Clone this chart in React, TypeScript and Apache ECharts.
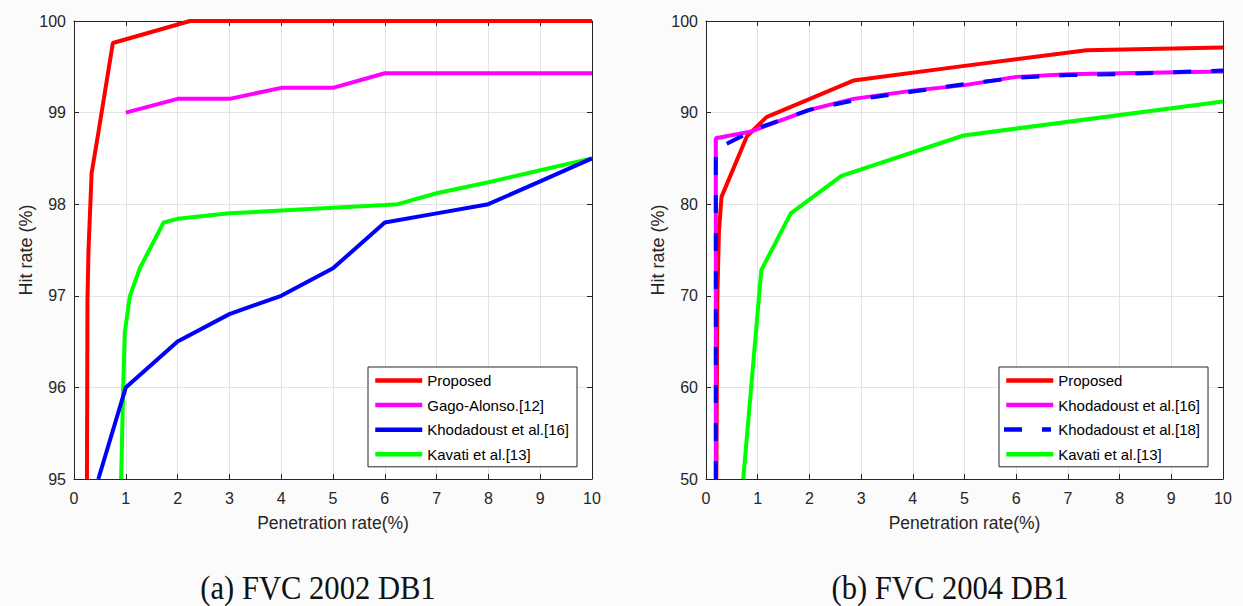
import React, { useEffect, useRef } from "react";
import * as echarts from "echarts";

// ---------- Data: (a) FVC 2002 DB1 ----------
const aProposedX = [0.25, 0.26, 0.28, 0.34, 0.47, 0.75, 2.24, 10];
const aProposedY = [95, 96.95, 97.5, 98.34, 98.78, 99.76, 100, 100];

const aGagoX = [1, 2, 3, 4, 5, 6, 7, 8, 9, 10];
const aGagoY = [99, 99.15, 99.15, 99.27, 99.27, 99.43, 99.43, 99.43, 99.43, 99.43];

const aKhod16X = [0.47, 1, 2, 3, 4, 5, 6, 7, 8, 9, 10];
const aKhod16Y = [95, 96, 96.5, 96.8, 97, 97.3, 97.8, 97.9, 98, 98.25, 98.5];

const aKavatiX = [0.91, 0.93, 0.95, 0.98, 1.08, 1.27, 1.73, 2, 3, 4, 5, 6, 6.25, 7, 8, 9, 10];
const aKavatiY = [95, 95.5, 96, 96.6, 97.0, 97.3, 97.8, 97.84, 97.9, 97.93, 97.96, 97.99, 98.0, 98.12, 98.24, 98.37, 98.5];

// ---------- Data: (b) FVC 2004 DB1 ----------
const bProposedX = [0.2, 0.22, 0.25, 0.3, 0.79, 1.17, 2.85, 5, 7.36, 10];
const bProposedY = [50, 70, 77, 80.8, 87.4, 89.5, 93.5, 95.1, 96.8, 97.1];

const bKhod16X = [0.19, 0.19, 0.85, 2, 2.85, 4, 5, 6, 7, 8, 10];
const bKhod16Y = [50, 87.2, 87.9, 90.3, 91.5, 92.4, 93.0, 93.9, 94.2, 94.3, 94.5];

const bKhod18X = [0.19, 0.19, 0.4, 1, 2, 3, 4, 5, 6, 7, 8, 9, 10];
const bKhod18Y = [50, 86, 86.6, 88.3, 90.3, 91.5, 92.3, 93.1, 93.8, 94.1, 94.2, 94.4, 94.6];

const bKavatiX = [0.72, 1.07, 1.64, 2.62, 4.98, 10];
const bKavatiY = [50, 72.8, 79, 83.1, 87.5, 91.2];

const namesA = ["Proposed", "Gago-Alonso.[12]", "Khodadoust et al.[16]", "Kavati et al.[13]"];
const namesB = ["Proposed (b)", "Khodadoust et al.[16] (b)", "Khodadoust et al.[18]", "Kavati et al.[13] (b)"];
const captions = ["(a) FVC 2002 DB1", "(b) FVC 2004 DB1"];

const zip = (xs: number[], ys: number[]) => xs.map((x, i) => [x, ys[i]]);

const AX = "#262626";
const GRID = "#e3e3e3";
const SANS = '"Liberation Sans", Arial, sans-serif';
const DASH = [18, 20];

function mainX(gridIndex: number) {
  return {
    type: "value",
    gridIndex,
    position: "bottom",
    min: 0,
    max: 10,
    interval: 1,
    axisLine: { show: true, lineStyle: { color: AX, width: 1 } },
    axisTick: { show: true, inside: true, length: 5, lineStyle: { color: AX } },
    axisLabel: { color: AX, fontSize: 16, fontFamily: SANS, margin: 11 },
    splitLine: { show: true, lineStyle: { color: GRID, width: 1 } },
    name: "Penetration rate(%)",
    nameLocation: "middle",
    nameGap: 35,
    nameTextStyle: { color: AX, fontSize: 17.5, fontFamily: SANS },
  };
}
function boxX(gridIndex: number) {
  return {
    type: "value",
    gridIndex,
    position: "top",
    min: 0,
    max: 10,
    interval: 1,
    axisLine: { show: true, onZero: false, lineStyle: { color: AX, width: 1 } },
    axisTick: { show: true, inside: true, length: 5, lineStyle: { color: AX } },
    axisLabel: { show: false },
    splitLine: { show: false },
  };
}
function mainY(gridIndex: number, min: number, max: number, interval: number) {
  return {
    type: "value",
    gridIndex,
    position: "left",
    min,
    max,
    interval,
    axisLine: { show: true, onZero: false, lineStyle: { color: AX, width: 1 } },
    axisTick: { show: true, inside: true, length: 5, lineStyle: { color: AX } },
    axisLabel: { color: AX, fontSize: 16, fontFamily: SANS, margin: 8 },
    splitLine: { show: true, lineStyle: { color: GRID, width: 1 } },
    name: "Hit rate (%)",
    nameLocation: "middle",
    nameRotate: 90,
    nameGap: 38,
    nameTextStyle: { color: AX, fontSize: 18, fontFamily: SANS },
  };
}
function boxY(gridIndex: number, min: number, max: number, interval: number) {
  return {
    type: "value",
    gridIndex,
    position: "right",
    min,
    max,
    interval,
    axisLine: { show: true, onZero: false, lineStyle: { color: AX, width: 1 } },
    axisTick: { show: true, inside: true, length: 5, lineStyle: { color: AX } },
    axisLabel: { show: false },
    splitLine: { show: false },
  };
}

function line(name: string, data: number[][], color: string, xi: number, yi: number, z: number, dash?: number[]) {
  return {
    type: "line",
    name,
    data,
    xAxisIndex: xi,
    yAxisIndex: yi,
    symbol: "none",
    showSymbol: false,
    z,
    lineStyle: { color, width: 4, type: dash ? dash : "solid", cap: "butt" },
    itemStyle: { color },
  };
}

function legend(left: number, data: any[]) {
  return {
    orient: "vertical",
    left,
    top: 367,
    data,
    itemWidth: 47,
    itemHeight: 14,
    itemGap: 9.6,
    padding: [6, 8, 5, 5],
    backgroundColor: "#ffffff",
    borderColor: AX,
    borderWidth: 1,
    borderRadius: 0,
    selectedMode: false,
    itemStyle: { color: "transparent", borderWidth: 0, opacity: 0 },
    lineStyle: { width: 4.5 },
    textStyle: { color: "#000", fontSize: 15, fontFamily: SANS },
    formatter: (n: string) => n.replace(" (b)", ""),
  };
}

export default function App() {
  const ref = useRef<HTMLDivElement>(null);
  useEffect(() => {
    document.body.style.margin = "0";
    document.body.style.background = "#fbfbfb";
    const chart = echarts.init(ref.current!, undefined, { renderer: "svg" });
    const legendB = namesB.map((n) =>
      n === "Khodadoust et al.[18]"
        ? { name: n, icon: "rect", itemStyle: { color: "rgba(0,0,0,0)", borderWidth: 0, opacity: 0 } }
        : n
    );
    chart.setOption({
      animation: false,
      backgroundColor: "#fbfbfb",
      grid: [
        { left: 74, top: 21, width: 518, height: 458, show: true, backgroundColor: "#ffffff", borderWidth: 0 },
        { left: 706, top: 21, width: 517, height: 458, show: true, backgroundColor: "#ffffff", borderWidth: 0 },
      ],
      xAxis: [mainX(0), boxX(0), mainX(1), boxX(1)],
      yAxis: [mainY(0, 95, 100, 1), boxY(0, 95, 100, 1), mainY(1, 50, 100, 10), boxY(1, 50, 100, 10)],
      legend: [legend(368, namesA), legend(999, legendB)],
      series: [
        line(namesA[3], zip(aKavatiX, aKavatiY), "#00ff00", 0, 0, 2),
        line(namesA[2], zip(aKhod16X, aKhod16Y), "#0000ff", 0, 0, 3),
        line(namesA[1], zip(aGagoX, aGagoY), "#ff00ff", 0, 0, 4),
        line(namesA[0], zip(aProposedX, aProposedY), "#ff0000", 0, 0, 5),
        line(namesB[3], zip(bKavatiX, bKavatiY), "#00ff00", 2, 2, 2),
        line(namesB[0], zip(bProposedX, bProposedY), "#ff0000", 2, 2, 3),
        line(namesB[1], zip(bKhod16X, bKhod16Y), "#ff00ff", 2, 2, 4),
        line(namesB[2], zip(bKhod18X, bKhod18Y), "#0000ff", 2, 2, 5, DASH),
      ],
      graphic: [
        {
          type: "line",
          z: 100,
          shape: { x1: 1004, y1: 429.5, x2: 1051, y2: 429.5 },
          style: { stroke: "#0000ff", lineWidth: 4.5, lineDash: DASH },
        },
        {
          type: "text",
          x: 318,
          y: 587,
          scaleX: 0.9,
          style: { text: captions[0], font: '34px "Liberation Serif", "Times New Roman", serif', fill: "#111", textAlign: "center", textVerticalAlign: "middle" },
        },
        {
          type: "text",
          x: 950,
          y: 587,
          scaleX: 0.9,
          style: { text: captions[1], font: '34px "Liberation Serif", "Times New Roman", serif', fill: "#111", textAlign: "center", textVerticalAlign: "middle" },
        },
      ],
    });
    return () => chart.dispose();
  }, []);
  return <div ref={ref} style={{ position: "fixed", left: 0, top: 0, width: 1243, height: 606 }} />;
}
